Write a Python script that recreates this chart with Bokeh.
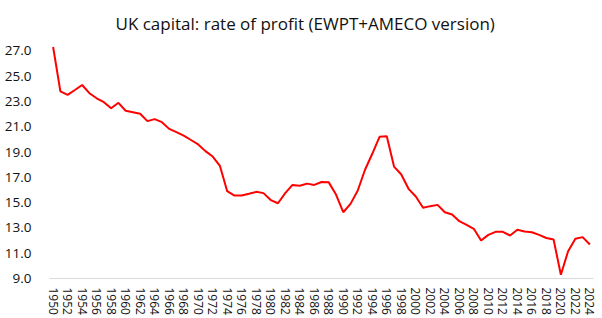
import math
from bokeh.plotting import figure
from bokeh.models import FixedTicker, Range1d, Title
from bokeh.embed import file_html
from bokeh.resources import INLINE

years = list(range(1950, 2025))
rate = [27.3, 23.8, 23.52, 23.9, 24.3, 23.65, 23.25, 22.94, 22.46, 22.89,
        22.26, 22.15, 22.02, 21.44, 21.6, 21.36, 20.83, 20.57, 20.3, 19.95,
        19.6, 19.07, 18.64, 17.9, 15.9, 15.56, 15.56, 15.7, 15.85, 15.75,
        15.2, 14.95, 15.75, 16.4, 16.33, 16.5, 16.4, 16.63, 16.6, 15.64,
        14.24, 14.9, 15.96, 17.6, 18.86, 20.2, 20.25, 17.85, 17.22, 16.09,
        15.48, 14.59, 14.72, 14.82, 14.24, 14.06, 13.53, 13.24, 12.93, 12.0,
        12.45, 12.69, 12.69, 12.4, 12.85, 12.72, 12.66, 12.45, 12.2, 12.08,
        9.3, 11.16, 12.14, 12.27, 11.69]
y_ticks = [9, 11, 13, 15, 17, 19, 21, 23, 25, 27]
x_ticks = list(range(1950, 2025, 2))
title_text = "UK capital: rate of profit (EWPT+AMECO version)"

p = figure(width=602, height=318, output_backend="svg", toolbar_location=None,
           x_range=Range1d(1949.5, 2024.5), y_range=Range1d(9, 27.5),
           min_border_left=49, min_border_right=9, min_border_bottom=40,
           min_border_top=44)
p.title = Title(text=title_text, align="left", text_font="Open Sans",
                text_font_size="17px", text_font_style="normal",
                text_color="#111111", offset=66, standoff=19)
p.line(years, rate, line_color="#ff0000", line_width=2)

p.outline_line_color = None
p.xgrid.grid_line_color = None
p.ygrid.grid_line_color = None

p.xaxis.ticker = FixedTicker(ticks=x_ticks)
p.xaxis.major_label_overrides = {t: str(t) for t in x_ticks}
p.xaxis.major_label_orientation = -math.pi / 2
p.xaxis.axis_line_color = "#d9d9d9"
p.xaxis.axis_line_width = 1
p.xaxis.major_tick_line_color = None
p.xaxis.minor_tick_line_color = None
p.xaxis.major_label_text_font = "Open Sans"
p.xaxis.major_label_text_font_size = "12px"
p.xaxis.major_label_text_color = "#111111"
p.xaxis.major_label_standoff = 3

p.yaxis.ticker = FixedTicker(ticks=y_ticks)
p.yaxis.major_label_overrides = {t: f"{t:.1f}" for t in y_ticks}
p.yaxis.axis_line_color = None
p.yaxis.major_tick_line_color = None
p.yaxis.minor_tick_line_color = None
p.yaxis.major_label_text_font = "Open Sans"
p.yaxis.major_label_text_font_size = "13.5px"
p.yaxis.major_label_text_color = "#111111"
p.yaxis.major_label_standoff = 12

open("out.html", "w").write(file_html(p, INLINE))
